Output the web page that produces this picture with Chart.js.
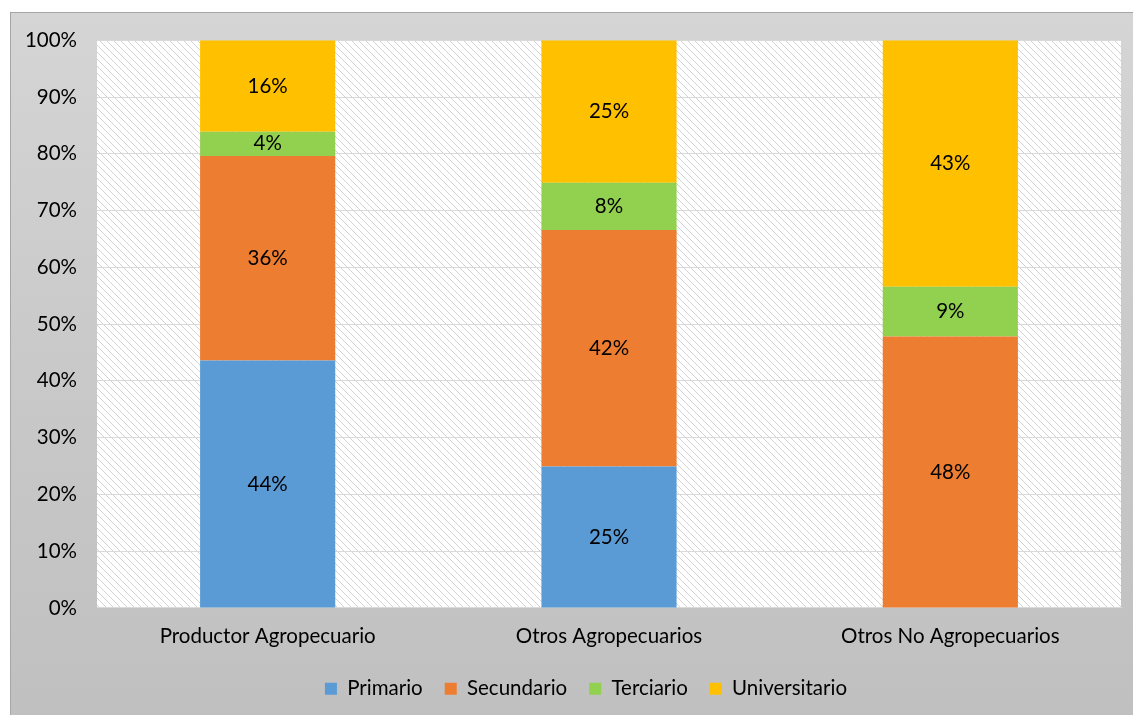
<!DOCTYPE html>
<html>
<head>
<meta charset="utf-8">
<script src="https://cdn.jsdelivr.net/npm/chart.js@4.4.1/dist/chart.umd.min.js"></script>
<style>
    html, body { margin: 0; padding: 0; background: #ffffff; overflow: hidden; }
    #frame {
        position: absolute;
        left: 10px;
        top: 12px;
        width: 1123px;
        height: 703px;
        border-left: 1px solid #a6a6a6;
        border-top: 1px solid #a6a6a6;
        background: linear-gradient(to bottom, #d5d5d5 0%, #c9c9c9 50%, #c0c0c0 100%);
    }
    #box {
        position: absolute;
        left: 0;
        top: -5px;
        width: 1123px;
        height: 708px;
    }
</style>
</head>
<body>
<div id="frame"><div id="box"><canvas id="chart"></canvas></div></div>
<script>
const categories = ['Productor Agropecuario', 'Otros Agropecuarios', 'Otros No Agropecuarios'];
const seriesNames = ['Primario', 'Secundario', 'Terciario', 'Universitario'];
const seriesColors = ['#5b9bd5', '#ed7d31', '#92d050', '#ffc000'];
const primario = [43.6, 24.9, 0];
const secundario = [36.0, 41.7, 47.8];
const terciario = [4.3, 8.3, 8.8];
const universitario = [16.1, 25.1, 43.4];
const yTicks = [0, 10, 20, 30, 40, 50, 60, 70, 80, 90, 100];

const fontName = 'Lato, "Open Sans", sans-serif';
const fontSize = 20.5;

// diagonal hatch for the plot area
function makeHatch(ctx) {
    const c = document.createElement('canvas');
    c.width = 7;
    c.height = 7;
    const p = c.getContext('2d');
    p.fillStyle = '#ffffff';
    p.fillRect(0, 0, 7, 7);
    p.strokeStyle = '#d2d2d2';
    p.lineWidth = 1;
    p.beginPath();
    p.moveTo(-1, -1);
    p.lineTo(8, 8);
    p.stroke();
    return ctx.createPattern(c, 'repeat');
}

const plotBackground = {
    id: 'plotBackground',
    beforeDraw(chart) {
        const { ctx, chartArea } = chart;
        ctx.save();
        ctx.fillStyle = makeHatch(ctx);
        ctx.fillRect(chartArea.left, chartArea.top, chartArea.width, chartArea.height);
        ctx.restore();
    }
};

// legend sits a bit right of the canvas centre in the original
const legendShift = {
    id: 'legendShift',
    afterLayout(chart) {
        if (!chart.legend) return;
        chart.legend.left += 20;
        chart.legend.right += 20;
    }
};

const barLabels = {
    id: 'barLabels',
    afterDatasetsDraw(chart) {
        const ctx = chart.ctx;
        ctx.save();
        ctx.font = fontSize + 'px ' + fontName;
        ctx.fillStyle = '#000000';
        ctx.textAlign = 'center';
        ctx.textBaseline = 'middle';
        chart.data.datasets.forEach((ds, i) => {
            const meta = chart.getDatasetMeta(i);
            meta.data.forEach((bar, j) => {
                const v = ds.data[j];
                if (!v) return;
                ctx.fillText(Math.round(v) + '%', bar.x, (bar.y + bar.base) / 2);
            });
        });
        ctx.restore();
    }
};

const values = [primario, secundario, terciario, universitario];

new Chart(document.getElementById('chart'), {
    type: 'bar',
    data: {
        labels: categories,
        datasets: seriesNames.map((name, i) => ({
            label: name,
            data: values[i],
            backgroundColor: seriesColors[i],
            borderWidth: 0,
            categoryPercentage: 1,
            barPercentage: 0.396
        }))
    },
    options: {
        responsive: true,
        maintainAspectRatio: false,
        animation: false,
        layout: { padding: { left: 0, right: 13, top: 7, bottom: 7 } },
        scales: {
            x: {
                stacked: true,
                grid: { display: false },
                border: { color: '#d9d9d9' },
                ticks: { color: '#000000', font: { family: fontName, size: fontSize }, padding: 8 }
            },
            y: {
                stacked: true,
                min: 0,
                max: 100,
                afterBuildTicks(axis) { axis.ticks = yTicks.map(v => ({ value: v })); },
                afterFit(axis) { axis.width = 86; },
                grid: { color: '#d9d9d9', drawTicks: false },
                border: { display: false },
                ticks: {
                    color: '#000000',
                    font: { family: fontName, size: fontSize },
                    padding: 20,
                    callback: v => v + '%'
                }
            }
        },
        plugins: {
            legend: {
                position: 'bottom',
                labels: {
                    color: '#000000',
                    font: { family: fontName, size: fontSize },
                    boxWidth: 12,
                    boxHeight: 12,
                    padding: 22
                }
            },
            tooltip: { enabled: false }
        }
    },
    plugins: [plotBackground, legendShift, barLabels]
});
</script>
</body>
</html>
